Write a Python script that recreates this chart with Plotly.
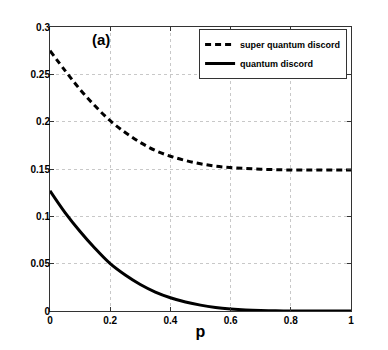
import plotly.graph_objects as go

p = [0.0, 0.05, 0.1, 0.15, 0.2, 0.25, 0.3, 0.35, 0.4, 0.45, 0.5,
     0.55, 0.6, 0.65, 0.7, 0.75, 0.8, 0.85, 0.9, 0.95, 1.0]
super_qd = [0.275, 0.254, 0.234, 0.2165, 0.201, 0.1885, 0.178, 0.1695, 0.1635, 0.159, 0.1555,
            0.153, 0.1515, 0.1505, 0.1498, 0.1493, 0.149, 0.149, 0.149, 0.149, 0.149]
qd = [0.127, 0.104, 0.084, 0.066, 0.050, 0.038, 0.028, 0.020, 0.014, 0.0095, 0.0062,
      0.0038, 0.0022, 0.0011, 0.0005, 0.0002, 0.0, 0.0, 0.0, 0.0, 0.0]

x_ticks = [0, 0.2, 0.4, 0.6, 0.8, 1]
x_labels = ["0", "0.2", "0.4", "0.6", "0.8", "1"]
y_ticks = [0, 0.05, 0.1, 0.15, 0.2, 0.25, 0.3]
y_labels = ["0", "0.05", "0.1", "0.15", "0.2", "0.25", "0.3"]

font = "Liberation Sans"

fig = go.Figure()
fig.add_trace(go.Scatter(x=p, y=super_qd, mode="lines", name="<b>super quantum discord</b>",
                         line=dict(color="black", width=3, dash="6px,4px", shape="spline")))
fig.add_trace(go.Scatter(x=p, y=qd, mode="lines", name="<b>quantum discord</b>",
                         line=dict(color="black", width=3, shape="spline")))

axis_common = dict(showline=True, linecolor="#333", linewidth=1, mirror="ticks",
                   ticks="inside", ticklen=4, tickcolor="#333", automargin=False,
                   showgrid=True, gridcolor="#c8c8c8", griddash="dot", gridwidth=1,
                   zeroline=False, tickfont=dict(family=font, size=10, color="black"))

fig.update_xaxes(range=[0, 1], tickvals=x_ticks, ticktext=["<b>%s</b>" % t for t in x_labels],
                 title=dict(text="<b>p</b>", font=dict(family=font, size=16, color="black"), standoff=0),
                 **axis_common)
fig.update_yaxes(range=[0, 0.3], tickvals=y_ticks, ticktext=["<b>%s</b>" % t for t in y_labels],
                 ticklabelstandoff=-3, **axis_common)

fig.add_annotation(x=0.17, y=0.287, text="<b>(a)</b>", showarrow=False,
                   font=dict(family=font, size=15, color="black"))

# page body adds an 8px offset, so the figure is 380x342 with margins shifted
fig.update_layout(
    width=380, height=342,
    margin=dict(l=42, r=37, t=19, b=39),
    plot_bgcolor="white", paper_bgcolor="white",
    font=dict(family=font, color="black"),
    legend=dict(x=0.987, y=0.993, xanchor="right", yanchor="top",
                bgcolor="white", bordercolor="#333", borderwidth=1,
                font=dict(family=font, size=9, color="black"),
                tracegroupgap=0, itemwidth=30),
    showlegend=True,
)

fig.write_html("out.html")
